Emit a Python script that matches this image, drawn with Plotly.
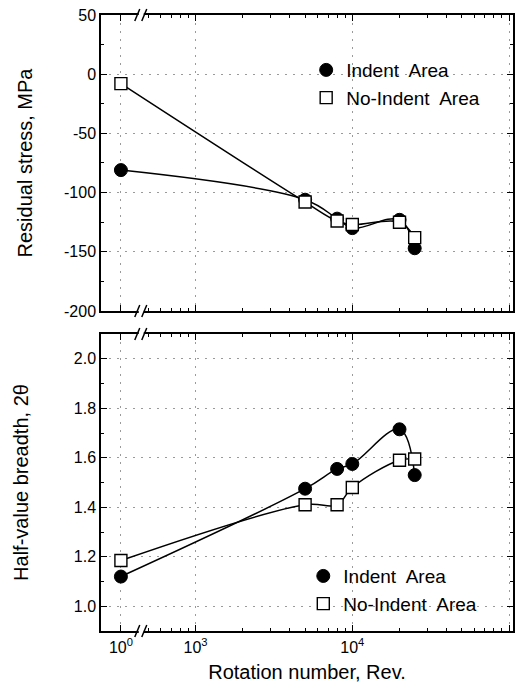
import math
import plotly.graph_objects as go

# ---------------- data ----------------
rotation = [1, 5000, 8000, 10000, 20000, 25000]

stress_indent = [-81, -106, -122, -130, -123, -147]
stress_noindent = [-8, -108, -124, -127, -125, -138]

hvb_indent = [1.12, 1.475, 1.555, 1.575, 1.715, 1.53]
hvb_noindent = [1.185, 1.41, 1.41, 1.48, 1.59, 1.595]

tick_revs = [1, 1000, 10000, 100000]
tick_labels = ["10<sup>0</sup>", "10<sup>3</sup>", "10<sup>4</sup>", "10<sup>5</sup>"]

stress_ticks = [-200, -150, -100, -50, 0, 50]
stress_tick_labels = ["-200", "-150", "-100", "-50", "0", "50"]
hvb_ticks = [1.0, 1.2, 1.4, 1.6, 1.8, 2.0]

# ---------------- broken log axis ----------------
# values below the break are drawn on a log scale shifted right by SHIFT decades
BREAK_REV = 450
SHIFT = 2.524
BREAK_POS = 2.657
X_RANGE = [2.397, 5.025]


def xpos(rev):
    v = math.log10(rev)
    return v + SHIFT if rev < BREAK_REV else v


xs = [xpos(r) for r in rotation]
tickvals = [xpos(r) for r in tick_revs]
minor_vals = [math.log10(k * 10 ** n) for n in (2, 3, 4) for k in range(2, 10)
              if BREAK_POS + 0.02 < math.log10(k * 10 ** n) < X_RANGE[1]]

FONT = "Liberation Sans, Arial, sans-serif"
BLACK = "#000"

fig = go.Figure()

line_style = dict(color=BLACK, width=1.5, shape="spline", smoothing=1.1)
circle = dict(symbol="circle", size=13, color=BLACK, line=dict(color=BLACK, width=1))
square = dict(symbol="square", size=12, color="white", line=dict(color=BLACK, width=1.4))

# top panel (x2 / y2)
fig.add_trace(go.Scatter(x=xs, y=stress_indent, mode="lines", line=line_style,
                         xaxis="x2", yaxis="y2", showlegend=False, hoverinfo="skip"))
fig.add_trace(go.Scatter(x=xs, y=stress_noindent, mode="lines", line=line_style,
                         xaxis="x2", yaxis="y2", showlegend=False, hoverinfo="skip"))
fig.add_trace(go.Scatter(x=xs, y=stress_indent, mode="markers", marker=circle,
                         name="Indent  Area", xaxis="x2", yaxis="y2", legend="legend"))
fig.add_trace(go.Scatter(x=xs, y=stress_noindent, mode="markers", marker=square,
                         name="No-Indent  Area", xaxis="x2", yaxis="y2", legend="legend"))

# bottom panel (x / y)
fig.add_trace(go.Scatter(x=xs, y=hvb_indent, mode="lines", line=line_style,
                         xaxis="x", yaxis="y", showlegend=False, hoverinfo="skip"))
fig.add_trace(go.Scatter(x=xs, y=hvb_noindent, mode="lines", line=line_style,
                         xaxis="x", yaxis="y", showlegend=False, hoverinfo="skip"))
fig.add_trace(go.Scatter(x=xs, y=hvb_indent, mode="markers", marker=circle,
                         name="Indent  Area", xaxis="x", yaxis="y", legend="legend2"))
fig.add_trace(go.Scatter(x=xs, y=hvb_noindent, mode="markers", marker=square,
                         name="No-Indent  Area", xaxis="x", yaxis="y", legend="legend2"))

grid = dict(showgrid=True, gridcolor="#9a9a9a", gridwidth=1, griddash="2px,6px")
common_x = dict(
    range=X_RANGE, tickmode="array", tickvals=tickvals, ticktext=tick_labels,
    ticks="inside", ticklen=6, tickwidth=1.2, tickcolor=BLACK,
    showline=True, linecolor=BLACK, linewidth=1.5, mirror="ticks",
    zeroline=False,
    minor=dict(tickmode="array", tickvals=minor_vals, ticks="inside", ticklen=3,
               tickwidth=1, tickcolor=BLACK, showgrid=False),
    **grid,
)
common_y = dict(
    ticks="inside", ticklen=6, tickwidth=1.2, tickcolor=BLACK,
    showline=True, linecolor=BLACK, linewidth=1.5, mirror="ticks",
    zeroline=False,
    tickfont=dict(family=FONT, size=16, color=BLACK),
    **grid,
)

fig.update_layout(
    width=518, height=687,
    margin=dict(l=101, r=3, t=15, b=56),
    paper_bgcolor="white", plot_bgcolor="white",
    font=dict(family=FONT, color=BLACK, size=16),
    xaxis=dict(domain=[0, 1], anchor="y",
               tickfont=dict(family=FONT, size=16, color=BLACK),
               ticklabelstandoff=1,
               title=dict(text="Rotation number, Rev.", font=dict(family=FONT, size=20, color=BLACK),
                          standoff=10),
               **common_x),
    xaxis2=dict(domain=[0, 1], anchor="y2", matches="x", showticklabels=False, **common_x),
    yaxis=dict(domain=[0, 0.4821], anchor="x", range=[0.9, 2.1],
               tickmode="array", tickvals=hvb_ticks, tickformat=".1f",
               minor=dict(tickmode="array", tickvals=[1.1, 1.3, 1.5, 1.7, 1.9], ticks="inside",
                          ticklen=3, tickwidth=1, tickcolor=BLACK, showgrid=False),
               title=dict(text="Half-value breadth, 2θ", font=dict(family=FONT, size=20, color=BLACK),
                          standoff=40),
               **common_y),
    yaxis2=dict(domain=[0.5195, 1], anchor="x2", range=[-200, 50],
                tickmode="array", tickvals=stress_ticks, ticktext=stress_tick_labels,
                minor=dict(tickmode="array", tickvals=[-175, -125, -75, -25, 25], ticks="inside",
                           ticklen=3, tickwidth=1, tickcolor=BLACK, showgrid=False),
                title=dict(text="Residual stress, MPa", font=dict(family=FONT, size=20, color=BLACK),
                           standoff=26),
                **common_y),
    legend=dict(x=0.498, y=0.9415, xanchor="left", yanchor="top", bgcolor="rgba(0,0,0,0)",
                font=dict(family=FONT, size=19, color=BLACK), tracegroupgap=6),
    legend2=dict(x=0.491, y=0.120, xanchor="left", yanchor="top", bgcolor="rgba(0,0,0,0)",
                 font=dict(family=FONT, size=19, color=BLACK), tracegroupgap=6),
)

# axis-break marks "//" on the top and bottom edges of each panel
shapes = []
for yref in ("y domain", "y2 domain"):
    for yanc in (0, 1):
        shapes.append(dict(type="rect", xref="x", yref=yref, xsizemode="pixel", ysizemode="pixel",
                           xanchor=BREAK_POS, yanchor=yanc, x0=-3, x1=2, y0=-2.5, y1=2.5,
                           fillcolor="white", line=dict(width=0), layer="above"))
        for dx in (-4, 3):
            shapes.append(dict(type="line", xref="x", yref=yref, xsizemode="pixel", ysizemode="pixel",
                               xanchor=BREAK_POS, yanchor=yanc, x0=dx - 3, x1=dx + 2, y0=-6, y1=6,
                               line=dict(color=BLACK, width=1.5), layer="above"))
fig.update_layout(shapes=shapes)

fig.write_html("out.html")
